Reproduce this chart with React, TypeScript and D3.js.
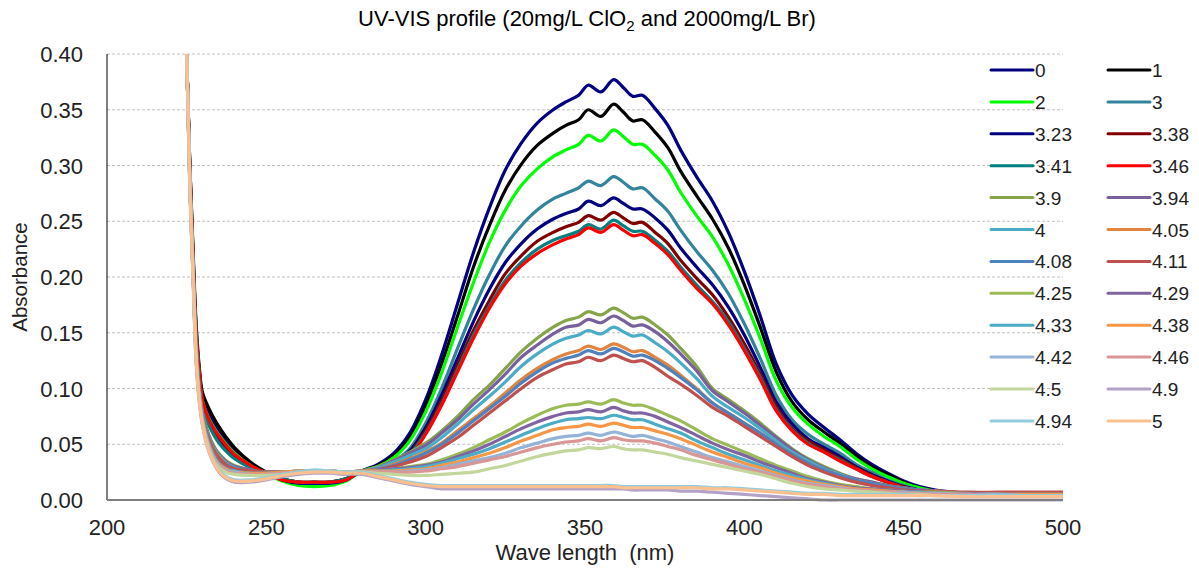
import React from "react";
import * as d3 from "d3";

// wavelengths (nm) shared by every spectrum
const wavelengths = [
  224, 225, 226, 227, 228, 229, 230, 232, 234, 236, 238, 240, 245, 250, 255, 260, 265, 270, 275, 280,
  285, 290, 295, 300, 305, 310, 315, 320, 325, 330, 335, 340,
  344, 348, 351, 355, 359, 362, 365, 368, 372, 376,
  380, 385, 390, 395, 400, 405, 410, 415, 420, 425, 430, 435, 440, 445, 450, 455, 460,
  470, 480, 490, 500,
];

const s0 = [
  0.6, 0.4, 0.3, 0.22, 0.152, 0.114, 0.09, 0.076, 0.066, 0.058, 0.05, 0.044, 0.032, 0.024, 0.018, 0.015, 0.014, 0.015, 0.018, 0.026,
  0.032, 0.042, 0.06, 0.09, 0.13, 0.176, 0.222, 0.262, 0.296, 0.32, 0.338, 0.35,
  0.357, 0.363, 0.372, 0.366, 0.377, 0.37, 0.362, 0.363, 0.351, 0.336,
  0.314, 0.29, 0.268, 0.24, 0.205, 0.165, 0.122, 0.094, 0.077, 0.065, 0.054, 0.042, 0.032, 0.024, 0.017, 0.012, 0.009,
  0.006, 0.005, 0.005, 0.005,
];
const s1 = [
  0.6, 0.4, 0.3, 0.225, 0.156, 0.118, 0.096, 0.082, 0.071, 0.062, 0.054, 0.047, 0.034, 0.025, 0.019, 0.016, 0.015, 0.016, 0.019, 0.026,
  0.031, 0.04, 0.056, 0.085, 0.122, 0.165, 0.209, 0.246, 0.278, 0.301, 0.318, 0.329,
  0.336, 0.341, 0.35, 0.344, 0.355, 0.348, 0.34, 0.341, 0.33, 0.316,
  0.295, 0.273, 0.252, 0.226, 0.193, 0.155, 0.115, 0.088, 0.072, 0.061, 0.051, 0.04, 0.03, 0.023, 0.016, 0.011, 0.008,
  0.006, 0.005, 0.005, 0.005,
];
const s2 = [
  0.6, 0.4, 0.3, 0.22, 0.15, 0.112, 0.088, 0.073, 0.063, 0.055, 0.048, 0.042, 0.031, 0.024, 0.017, 0.013, 0.012, 0.013, 0.017, 0.026,
  0.03, 0.038, 0.053, 0.079, 0.114, 0.155, 0.195, 0.231, 0.26, 0.282, 0.297, 0.308,
  0.314, 0.319, 0.327, 0.322, 0.332, 0.326, 0.319, 0.319, 0.309, 0.296,
  0.276, 0.255, 0.236, 0.211, 0.18, 0.145, 0.107, 0.083, 0.068, 0.057, 0.048, 0.037, 0.028, 0.021, 0.015, 0.011, 0.008,
  0.006, 0.005, 0.005, 0.005,
];
const s3 = [
  0.6, 0.4, 0.295, 0.215, 0.145, 0.108, 0.085, 0.068, 0.057, 0.049, 0.043, 0.038, 0.03, 0.024, 0.019, 0.016, 0.016, 0.016, 0.019, 0.026,
  0.029, 0.035, 0.046, 0.069, 0.1, 0.136, 0.171, 0.202, 0.228, 0.246, 0.26, 0.27,
  0.275, 0.28, 0.286, 0.282, 0.29, 0.285, 0.279, 0.28, 0.27, 0.259,
  0.242, 0.223, 0.206, 0.185, 0.158, 0.127, 0.094, 0.072, 0.059, 0.05, 0.042, 0.032, 0.025, 0.018, 0.013, 0.009, 0.007,
  0.005, 0.005, 0.005, 0.005,
];
const s323 = [
  0.6, 0.4, 0.295, 0.215, 0.146, 0.108, 0.085, 0.069, 0.058, 0.05, 0.044, 0.039, 0.03, 0.024, 0.018, 0.015, 0.015, 0.015, 0.018, 0.026,
  0.028, 0.034, 0.044, 0.065, 0.094, 0.127, 0.16, 0.189, 0.213, 0.23, 0.243, 0.252,
  0.257, 0.261, 0.268, 0.264, 0.271, 0.266, 0.261, 0.261, 0.253, 0.242,
  0.226, 0.209, 0.193, 0.173, 0.148, 0.119, 0.088, 0.068, 0.055, 0.047, 0.039, 0.03, 0.023, 0.017, 0.012, 0.009, 0.007,
  0.005, 0.005, 0.005, 0.005,
];
const s338 = [
  0.6, 0.4, 0.295, 0.215, 0.145, 0.107, 0.084, 0.068, 0.057, 0.049, 0.043, 0.038, 0.03, 0.024, 0.019, 0.016, 0.016, 0.016, 0.019, 0.026,
  0.028, 0.033, 0.042, 0.062, 0.089, 0.121, 0.152, 0.179, 0.203, 0.219, 0.232, 0.24,
  0.245, 0.249, 0.255, 0.251, 0.258, 0.253, 0.248, 0.249, 0.24, 0.23,
  0.215, 0.199, 0.184, 0.164, 0.14, 0.113, 0.084, 0.064, 0.053, 0.045, 0.037, 0.029, 0.022, 0.016, 0.012, 0.008, 0.006,
  0.005, 0.005, 0.005, 0.005,
];
const s341 = [
  0.6, 0.4, 0.295, 0.215, 0.144, 0.106, 0.083, 0.067, 0.056, 0.048, 0.042, 0.037, 0.029, 0.024, 0.019, 0.016, 0.016, 0.016, 0.019, 0.026,
  0.028, 0.032, 0.041, 0.06, 0.086, 0.117, 0.148, 0.174, 0.197, 0.213, 0.225, 0.233,
  0.237, 0.241, 0.247, 0.243, 0.251, 0.246, 0.241, 0.241, 0.233, 0.223,
  0.209, 0.193, 0.178, 0.16, 0.136, 0.11, 0.081, 0.063, 0.051, 0.043, 0.036, 0.028, 0.021, 0.016, 0.011, 0.008, 0.006,
  0.005, 0.005, 0.005, 0.005,
];
const s346 = [
  0.6, 0.4, 0.3, 0.22, 0.15, 0.112, 0.089, 0.072, 0.062, 0.054, 0.047, 0.041, 0.031, 0.024, 0.018, 0.016, 0.016, 0.016, 0.018, 0.026,
  0.027, 0.031, 0.039, 0.059, 0.085, 0.115, 0.145, 0.172, 0.194, 0.21, 0.221, 0.229,
  0.234, 0.238, 0.244, 0.24, 0.247, 0.242, 0.237, 0.238, 0.23, 0.22,
  0.206, 0.19, 0.176, 0.157, 0.134, 0.108, 0.08, 0.062, 0.05, 0.043, 0.035, 0.028, 0.021, 0.016, 0.011, 0.008, 0.006,
  0.005, 0.005, 0.005, 0.005,
];
const s390 = [
  0.6, 0.4, 0.29, 0.21, 0.138, 0.1, 0.078, 0.058, 0.046, 0.039, 0.034, 0.031, 0.027, 0.025, 0.025, 0.025, 0.026, 0.026, 0.025, 0.026,
  0.03, 0.036, 0.043, 0.051, 0.062, 0.075, 0.09, 0.103, 0.118, 0.133, 0.145, 0.155,
  0.161, 0.164, 0.169, 0.166, 0.172, 0.168, 0.163, 0.164, 0.157, 0.148,
  0.136, 0.12, 0.1, 0.09, 0.08, 0.069, 0.057, 0.046, 0.037, 0.03, 0.024, 0.019, 0.016, 0.013, 0.011, 0.009, 0.008,
  0.006, 0.005, 0.005, 0.005,
];
const s394 = [
  0.6, 0.4, 0.29, 0.21, 0.137, 0.099, 0.077, 0.057, 0.045, 0.038, 0.033, 0.03, 0.027, 0.025, 0.025, 0.025, 0.026, 0.026, 0.025, 0.026,
  0.029, 0.035, 0.042, 0.049, 0.06, 0.072, 0.086, 0.099, 0.113, 0.128, 0.139, 0.149,
  0.155, 0.157, 0.162, 0.159, 0.165, 0.161, 0.156, 0.157, 0.151, 0.142,
  0.131, 0.116, 0.098, 0.088, 0.078, 0.067, 0.056, 0.045, 0.036, 0.029, 0.023, 0.019, 0.016, 0.013, 0.011, 0.009, 0.008,
  0.006, 0.005, 0.005, 0.005,
];
const s400 = [
  0.6, 0.4, 0.29, 0.21, 0.136, 0.098, 0.076, 0.056, 0.044, 0.037, 0.032, 0.029, 0.026, 0.025, 0.025, 0.025, 0.026, 0.026, 0.025, 0.026,
  0.029, 0.034, 0.04, 0.046, 0.056, 0.068, 0.081, 0.093, 0.106, 0.12, 0.131, 0.14,
  0.145, 0.148, 0.152, 0.149, 0.155, 0.151, 0.147, 0.148, 0.141, 0.133,
  0.123, 0.109, 0.093, 0.083, 0.074, 0.064, 0.053, 0.043, 0.035, 0.028, 0.023, 0.018, 0.015, 0.012, 0.01, 0.009, 0.008,
  0.006, 0.005, 0.005, 0.005,
];
const s405 = [
  0.6, 0.4, 0.288, 0.208, 0.135, 0.097, 0.075, 0.055, 0.043, 0.036, 0.031, 0.028, 0.026, 0.025, 0.025, 0.025, 0.026, 0.026, 0.025, 0.026,
  0.028, 0.032, 0.037, 0.043, 0.051, 0.062, 0.073, 0.084, 0.096, 0.108, 0.118, 0.126,
  0.131, 0.134, 0.138, 0.135, 0.14, 0.137, 0.133, 0.134, 0.128, 0.121,
  0.112, 0.1, 0.087, 0.078, 0.069, 0.06, 0.05, 0.041, 0.033, 0.027, 0.022, 0.018, 0.015, 0.012, 0.01, 0.009, 0.008,
  0.006, 0.005, 0.005, 0.005,
];
const s408 = [
  0.6, 0.4, 0.288, 0.208, 0.134, 0.096, 0.075, 0.054, 0.042, 0.035, 0.031, 0.028, 0.026, 0.025, 0.025, 0.025, 0.026, 0.026, 0.025, 0.026,
  0.028, 0.031, 0.036, 0.042, 0.05, 0.06, 0.071, 0.082, 0.093, 0.105, 0.115, 0.123,
  0.127, 0.13, 0.134, 0.131, 0.136, 0.133, 0.129, 0.13, 0.125, 0.118,
  0.11, 0.099, 0.087, 0.078, 0.069, 0.06, 0.05, 0.041, 0.033, 0.027, 0.022, 0.018, 0.015, 0.012, 0.01, 0.009, 0.008,
  0.006, 0.005, 0.005, 0.005,
];
const s411 = [
  0.6, 0.4, 0.288, 0.208, 0.134, 0.096, 0.074, 0.054, 0.042, 0.035, 0.03, 0.028, 0.026, 0.025, 0.025, 0.025, 0.026, 0.026, 0.025, 0.026,
  0.027, 0.03, 0.034, 0.039, 0.047, 0.056, 0.067, 0.078, 0.089, 0.1, 0.11, 0.117,
  0.122, 0.124, 0.128, 0.125, 0.13, 0.127, 0.124, 0.125, 0.119, 0.111,
  0.104, 0.094, 0.083, 0.075, 0.066, 0.057, 0.048, 0.039, 0.031, 0.025, 0.02, 0.016, 0.013, 0.011, 0.009, 0.008, 0.008,
  0.007, 0.007, 0.007, 0.007,
];
const s425 = [
  0.6, 0.4, 0.285, 0.205, 0.13, 0.094, 0.073, 0.051, 0.038, 0.031, 0.028, 0.026, 0.024, 0.024, 0.025, 0.026, 0.026, 0.026, 0.025, 0.026,
  0.027, 0.028, 0.03, 0.032, 0.036, 0.041, 0.047, 0.054, 0.061, 0.069, 0.076, 0.082,
  0.085, 0.086, 0.088, 0.086, 0.09, 0.087, 0.085, 0.085, 0.081, 0.076,
  0.071, 0.063, 0.055, 0.049, 0.043, 0.037, 0.031, 0.026, 0.021, 0.017, 0.014, 0.012, 0.01, 0.009, 0.008, 0.007, 0.007,
  0.006, 0.005, 0.005, 0.005,
];
const s429 = [
  0.6, 0.4, 0.285, 0.205, 0.13, 0.094, 0.073, 0.051, 0.038, 0.031, 0.028, 0.026, 0.024, 0.024, 0.025, 0.026, 0.026, 0.026, 0.025, 0.026,
  0.027, 0.028, 0.029, 0.031, 0.034, 0.039, 0.044, 0.05, 0.057, 0.064, 0.07, 0.075,
  0.078, 0.079, 0.081, 0.079, 0.083, 0.08, 0.078, 0.078, 0.075, 0.07,
  0.065, 0.058, 0.051, 0.045, 0.04, 0.034, 0.029, 0.024, 0.019, 0.016, 0.013, 0.011, 0.01, 0.009, 0.008, 0.007, 0.006,
  0.006, 0.005, 0.005, 0.005,
];
const s433 = [
  0.6, 0.4, 0.285, 0.205, 0.13, 0.093, 0.072, 0.05, 0.037, 0.03, 0.027, 0.026, 0.024, 0.024, 0.025, 0.026, 0.026, 0.026, 0.025, 0.026,
  0.026, 0.027, 0.028, 0.03, 0.033, 0.037, 0.041, 0.046, 0.052, 0.058, 0.064, 0.069,
  0.072, 0.073, 0.074, 0.073, 0.076, 0.074, 0.072, 0.072, 0.068, 0.064,
  0.06, 0.053, 0.047, 0.041, 0.036, 0.031, 0.026, 0.022, 0.018, 0.015, 0.012, 0.01, 0.009, 0.008, 0.007, 0.007, 0.006,
  0.005, 0.005, 0.005, 0.005,
];
const s438 = [
  0.6, 0.4, 0.284, 0.204, 0.128, 0.092, 0.071, 0.049, 0.036, 0.03, 0.027, 0.025, 0.024, 0.024, 0.025, 0.026, 0.026, 0.026, 0.025, 0.026,
  0.026, 0.026, 0.027, 0.028, 0.031, 0.034, 0.038, 0.042, 0.047, 0.053, 0.058, 0.063,
  0.065, 0.066, 0.068, 0.066, 0.069, 0.067, 0.065, 0.065, 0.062, 0.059,
  0.055, 0.049, 0.043, 0.038, 0.033, 0.029, 0.024, 0.02, 0.017, 0.014, 0.012, 0.01, 0.009, 0.008, 0.007, 0.006, 0.006,
  0.005, 0.005, 0.005, 0.005,
];
const s442 = [
  0.6, 0.4, 0.284, 0.204, 0.127, 0.091, 0.07, 0.048, 0.035, 0.029, 0.026, 0.025, 0.023, 0.023, 0.024, 0.025, 0.026, 0.026, 0.025, 0.025,
  0.025, 0.025, 0.026, 0.027, 0.029, 0.032, 0.035, 0.038, 0.042, 0.047, 0.051, 0.055,
  0.057, 0.058, 0.06, 0.058, 0.061, 0.059, 0.057, 0.058, 0.055, 0.052,
  0.048, 0.043, 0.038, 0.034, 0.03, 0.026, 0.022, 0.018, 0.015, 0.013, 0.011, 0.009, 0.008, 0.007, 0.007, 0.006, 0.006,
  0.005, 0.005, 0.004, 0.004,
];
const s446 = [
  0.6, 0.4, 0.283, 0.203, 0.126, 0.09, 0.069, 0.047, 0.034, 0.028, 0.025, 0.024, 0.023, 0.023, 0.024, 0.025, 0.026, 0.026, 0.025, 0.025,
  0.025, 0.025, 0.025, 0.026, 0.028, 0.03, 0.033, 0.036, 0.039, 0.043, 0.047, 0.05,
  0.052, 0.053, 0.055, 0.053, 0.056, 0.054, 0.053, 0.053, 0.051, 0.048,
  0.045, 0.04, 0.036, 0.032, 0.028, 0.025, 0.021, 0.017, 0.014, 0.012, 0.01, 0.009, 0.008, 0.007, 0.006, 0.006, 0.005,
  0.005, 0.004, 0.004, 0.004,
];
const s450 = [
  0.6, 0.4, 0.283, 0.203, 0.125, 0.089, 0.068, 0.046, 0.033, 0.027, 0.024, 0.023, 0.022, 0.022, 0.023, 0.025, 0.026, 0.026, 0.025, 0.025,
  0.024, 0.023, 0.022, 0.022, 0.023, 0.024, 0.025, 0.028, 0.031, 0.035, 0.039, 0.042,
  0.044, 0.045, 0.047, 0.046, 0.048, 0.046, 0.045, 0.045, 0.043, 0.041,
  0.038, 0.035, 0.032, 0.029, 0.026, 0.023, 0.019, 0.015, 0.012, 0.01, 0.009, 0.008, 0.007, 0.006, 0.005, 0.005, 0.004,
  0.004, 0.004, 0.004, 0.004,
];
const s490 = [
  0.6, 0.4, 0.28, 0.2, 0.122, 0.087, 0.066, 0.043, 0.03, 0.022, 0.018, 0.016, 0.016, 0.018, 0.021, 0.023, 0.024, 0.024, 0.023, 0.023,
  0.02, 0.017, 0.014, 0.012, 0.01, 0.01, 0.01, 0.01, 0.01, 0.01, 0.01, 0.01,
  0.01, 0.01, 0.01, 0.01, 0.01, 0.01, 0.009, 0.009, 0.009, 0.009,
  0.008, 0.008, 0.007, 0.006, 0.005, 0.004, 0.003, 0.002, 0.001, 0.0, 0.0, 0.0, 0.0, 0.0, 0.0, 0.0, 0.0,
  0.0, 0.0, 0.0, 0.0,
];
const s494 = [
  0.6, 0.4, 0.28, 0.2, 0.124, 0.089, 0.068, 0.045, 0.032, 0.024, 0.02, 0.018, 0.018, 0.02, 0.023, 0.025, 0.027, 0.026, 0.025, 0.025,
  0.022, 0.019, 0.016, 0.014, 0.013, 0.013, 0.013, 0.013, 0.013, 0.013, 0.013, 0.013,
  0.013, 0.013, 0.013, 0.013, 0.013, 0.012, 0.012, 0.012, 0.012, 0.012,
  0.012, 0.012, 0.011, 0.011, 0.01, 0.009, 0.008, 0.007, 0.006, 0.006, 0.005, 0.005, 0.005, 0.005, 0.005, 0.004, 0.004,
  0.004, 0.004, 0.004, 0.004,
];
const s500 = [
  0.6, 0.4, 0.28, 0.2, 0.124, 0.088, 0.067, 0.044, 0.031, 0.023, 0.019, 0.017, 0.017, 0.019, 0.022, 0.024, 0.025, 0.025, 0.024, 0.024,
  0.021, 0.018, 0.015, 0.013, 0.012, 0.012, 0.012, 0.012, 0.012, 0.012, 0.012, 0.012,
  0.012, 0.012, 0.012, 0.012, 0.012, 0.011, 0.011, 0.011, 0.011, 0.011,
  0.011, 0.011, 0.01, 0.01, 0.009, 0.008, 0.007, 0.006, 0.005, 0.005, 0.004, 0.004, 0.004, 0.004, 0.004, 0.004, 0.004,
  0.003, 0.003, 0.003, 0.003,
];

const seriesNames = [
  "0", "1", "2", "3", "3.23", "3.38", "3.41", "3.46", "3.9", "3.94", "4", "4.05",
  "4.08", "4.11", "4.25", "4.29", "4.33", "4.38", "4.42", "4.46", "4.5", "4.9", "4.94", "5",
];
const seriesColors = [
  "#000080", "#000000", "#00ff00", "#31849b", "#000080", "#800000", "#008080", "#ff0000",
  "#86a44a", "#77609c", "#4aacc6", "#e0843f", "#4f81bd", "#c0504d", "#9bbb59", "#8064a2",
  "#4bacc6", "#f79646", "#95b3d7", "#d99694", "#c3d69b", "#b3a2c7", "#93cddd", "#fac090",
];
const seriesValues = [
  s0, s1, s2, s3, s323, s338, s341, s346, s390, s394, s400, s405,
  s408, s411, s425, s429, s433, s438, s442, s446, s450, s490, s494, s500,
];

const xTicks = [200, 250, 300, 350, 400, 450, 500];
const yTicks = [0, 0.05, 0.1, 0.15, 0.2, 0.25, 0.3, 0.35, 0.4];

const width = 1199;
const height = 578;
const plot = { left: 107, right: 1063, top: 54, bottom: 500 };
const font = "'Liberation Sans', Arial, sans-serif";

export default function App() {
  const x = d3.scaleLinear().domain([200, 500]).range([plot.left, plot.right]);
  const y = d3.scaleLinear().domain([0, 0.4]).range([plot.bottom, plot.top]);
  const line = d3
    .line<number>()
    .x((_, i) => x(wavelengths[i]))
    .y((d) => y(d))
    .curve(d3.curveCatmullRom.alpha(0.5));

  return (
    <svg
      width={width}
      height={height}
      style={{ position: "absolute", left: 0, top: 0, display: "block", background: "#fff" }}
      fontFamily={font}
    >
      <defs>
        <clipPath id="plot-clip">
          <rect x={plot.left} y={plot.top} width={plot.right - plot.left} height={plot.bottom - plot.top + 2} />
        </clipPath>
      </defs>

      {/* title */}
      <text x={587} y={26} textAnchor="middle" fontSize={22} fill="#000">
        UV-VIS profile (20mg/L ClO
        <tspan dy={5} fontSize={15}>2</tspan>
        <tspan dy={-5}> and 2000mg/L Br)</tspan>
      </text>

      {/* grid */}
      {yTicks.filter((t) => t > 0).map((t) => (
        <line
          key={t}
          x1={plot.left}
          x2={plot.right}
          y1={y(t)}
          y2={y(t)}
          stroke="#c0c0c0"
          strokeDasharray="3,2"
        />
      ))}

      {/* y axis */}
      <line x1={plot.left} x2={plot.left} y1={plot.top} y2={plot.bottom} stroke="#000" />
      {yTicks.map((t) => (
        <text key={t} x={83} y={y(t) + 8} textAnchor="end" fontSize={22} fill="#222">
          {d3.format(".2f")(t)}
        </text>
      ))}
      <text
        transform={`translate(27,${(plot.top + plot.bottom) / 2}) rotate(-90)`}
        textAnchor="middle"
        fontSize={20.5}
        fill="#222"
      >
        Absorbance
      </text>

      {/* x axis */}
      {xTicks.map((t) => (
        <text key={t} x={x(t)} y={535} textAnchor="middle" fontSize={22} fill="#222">
          {t}
        </text>
      ))}
      <text x={585} y={560} textAnchor="middle" fontSize={22} fill="#222">
        {"Wave length\u00a0 (nm)"}
      </text>

      {/* spectra */}
      <g clipPath="url(#plot-clip)">
        {seriesValues.map((vals, i) => (
          <path
            key={seriesNames[i]}
            d={line(vals) || ""}
            fill="none"
            stroke={seriesColors[i]}
            strokeWidth={3.2}
            strokeLinejoin="round"
            strokeLinecap="round"
          />
        ))}
      </g>
      <line x1={plot.left} x2={plot.right} y1={plot.bottom} y2={plot.bottom} stroke="#7f7f7f" strokeWidth={2} />

      {/* legend */}
      {seriesNames.map((name, i) => {
        const col = i % 2;
        const row = Math.floor(i / 2);
        const lx = col === 0 ? 991 : 1108;
        const ly = 70 + row * 31.9;
        return (
          <g key={name}>
            <line x1={lx} x2={lx + 42} y1={ly} y2={ly} stroke={seriesColors[i]} strokeWidth={3} strokeLinecap="round" />
            <text x={lx + 44} y={ly + 7} fontSize={19} fill="#222">
              {name}
            </text>
          </g>
        );
      })}
    </svg>
  );
}
